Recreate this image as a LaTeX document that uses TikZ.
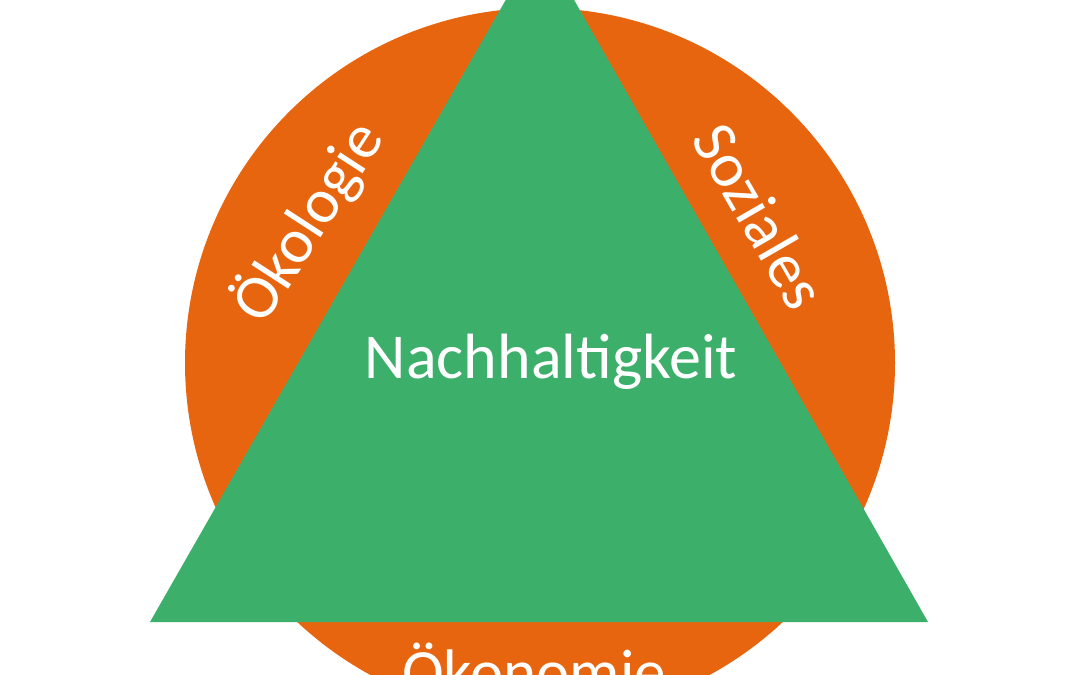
\documentclass[tikz,border=0pt]{standalone}
\usepackage{fontspec}
\setmainfont{Carlito}
\definecolor{orng}{HTML}{E8650F}
\definecolor{grn}{HTML}{3CB06A}
\begin{document}
\begin{tikzpicture}[x=1pt,y=-1pt,lbl/.style={text=white,font=\fontsize{63}{70}\selectfont}]
\useasboundingbox (0,0) rectangle (1080,675);
\begin{scope}
\clip (0,0) rectangle (1080,675);
\fill[white] (0,0) rectangle (1080,675);
\fill[orng] (540,363) circle[radius=355];
\fill[grn] (540,-60) -- (928,622) -- (150,622) -- cycle;
\node[lbl,rotate=57] (oek) at (308,222) {Ökologie};
\node[lbl,rotate=-60] (soz) at (760,216) {Soziales};
\node[lbl] (oko) at (534,668) {Ökonomie};
\node[lbl,font=\fontsize{64}{70}\selectfont] (nach) at (551,362) {Nachhaltigkeit};
\end{scope}
\end{tikzpicture}
\end{document}
